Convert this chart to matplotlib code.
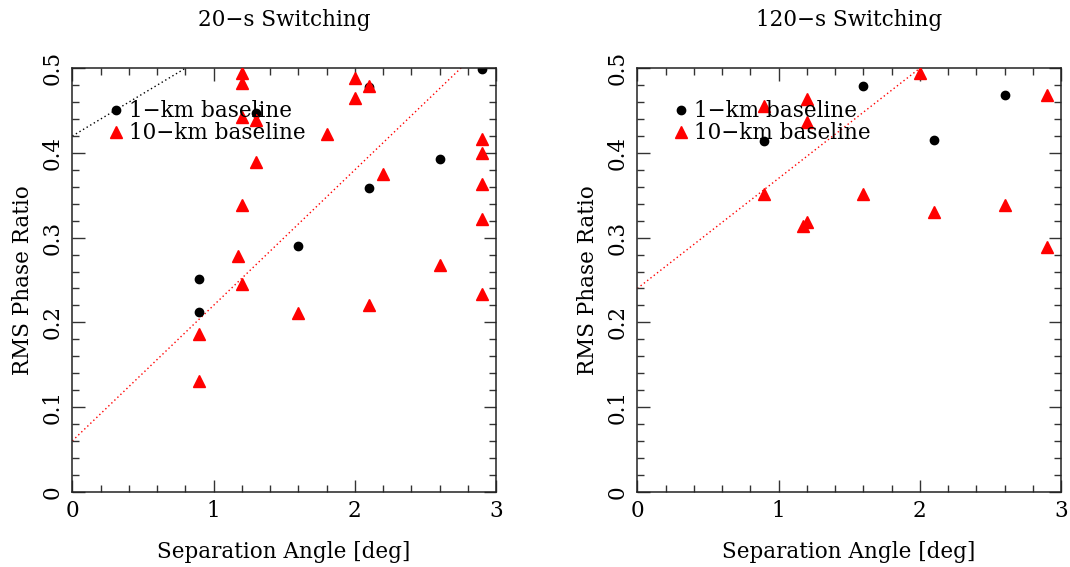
import matplotlib
matplotlib.use("Agg")
import matplotlib.pyplot as plt
import numpy as np
from matplotlib.ticker import MultipleLocator

plt.rcParams['font.family'] = ['DejaVu Serif']

# ---- data: 20-s switching ----
s20_1km_x = [2.9, 2.1, 1.3, 2.6, 2.1, 1.6, 0.9, 0.9]
s20_1km_y = [0.499, 0.478, 0.447, 0.393, 0.359, 0.290, 0.251, 0.212]
s20_10km_x = [1.2, 1.2, 2.0, 2.1, 2.0, 1.2, 1.3, 1.8, 2.9, 2.9, 1.3, 2.2, 2.9, 1.2,
              2.9, 1.17, 2.6, 1.2, 2.9, 2.1, 1.6, 0.9, 0.9]
s20_10km_y = [0.495, 0.483, 0.489, 0.479, 0.465, 0.443, 0.439, 0.422, 0.417, 0.400,
              0.389, 0.375, 0.363, 0.339, 0.322, 0.278, 0.268, 0.245, 0.233, 0.220,
              0.211, 0.186, 0.131]
s20_fit_1km = (0.42, 0.10)    # intercept, slope
s20_fit_10km = (0.06, 0.16)

# ---- data: 120-s switching ----
s120_1km_x = [1.6, 2.6, 0.9, 2.1]
s120_1km_y = [0.479, 0.469, 0.414, 0.415]
s120_10km_x = [2.0, 2.9, 1.2, 0.9, 1.2, 0.9, 1.6, 2.1, 2.6, 1.2, 1.17, 2.9]
s120_10km_y = [0.494, 0.468, 0.464, 0.456, 0.437, 0.351, 0.351, 0.330, 0.339,
               0.318, 0.314, 0.289]
s120_fit_10km = (0.24, 0.13)

titles = ["20\u2212s Switching", "120\u2212s Switching"]
xlabel = "Separation Angle [deg]"
ylabel = "RMS Phase Ratio"

W, H = 1070, 567
fig = plt.figure(figsize=(W / 100, H / 100), dpi=100)

def px_axes(l, r, t, b):
    return fig.add_axes([l / W, 1 - b / H, (r - l) / W, (b - t) / H])

ax1 = px_axes(72.3, 496, 68.3, 491.7)
ax2 = px_axes(637.3, 1061, 68.3, 491.7)

FS = 15.5

def style(ax, title):
    ax.set_xlim(0, 3)
    ax.set_ylim(0, 0.5)
    ax.xaxis.set_major_locator(MultipleLocator(1))
    ax.xaxis.set_minor_locator(MultipleLocator(0.2))
    ax.yaxis.set_major_locator(MultipleLocator(0.1))
    ax.yaxis.set_minor_locator(MultipleLocator(0.02))
    ax.tick_params(which='both', direction='in', top=True, right=True,
                   labelsize=FS, color='#333333')
    ax.tick_params(which='major', length=9, width=1, pad=6)
    ax.tick_params(which='minor', length=5, width=1)
    ax.set_yticks([0, 0.1, 0.2, 0.3, 0.4, 0.5])
    ax.set_yticklabels(["0", "0.1", "0.2", "0.3", "0.4", "0.5"], rotation=90,
                       va='center')
    ax.set_xticks([0, 1, 2, 3])
    ax.set_xticklabels(["0", "1", "2", "3"])
    for s in ax.spines.values():
        s.set_linewidth(1.1)
        s.set_color('#222222')
    ax.set_xlabel(xlabel, fontsize=FS, labelpad=14)
    ax.set_ylabel(ylabel, fontsize=FS, labelpad=6)
    bb = ax.get_position()
    fig.text((bb.x0 + bb.x1) / 2, 1 - 20 / H, title, fontsize=FS,
             ha='center', va='center')

xx = np.array([0, 3])

# left panel
ax1.plot(xx, s20_fit_1km[0] + s20_fit_1km[1] * xx, color='black', lw=1,
         ls=(0, (1, 2)), zorder=1)
ax1.plot(xx, s20_fit_10km[0] + s20_fit_10km[1] * xx, color='red', lw=1,
         ls=(0, (1, 2)), zorder=1)
ax1.plot(s20_1km_x, s20_1km_y, 'o', color='black', ms=6, label='1\u2212km baseline',
         zorder=2)
ax1.plot(s20_10km_x, s20_10km_y, '^', color='red', ms=9, mec='red',
         label='10\u2212km baseline', zorder=3)

# right panel
ax2.plot(xx, s120_fit_10km[0] + s120_fit_10km[1] * xx, color='red', lw=1,
         ls=(0, (1, 2)), zorder=1)
ax2.plot(s120_1km_x, s120_1km_y, 'o', color='black', ms=6, label='1\u2212km baseline',
         zorder=2)
ax2.plot(s120_10km_x, s120_10km_y, '^', color='red', ms=9, mec='red',
         label='10\u2212km baseline', zorder=3)

for ax, t in zip([ax1, ax2], titles):
    style(ax, t)
    ax.legend(loc='upper left', bbox_to_anchor=(0.087, 0.925), frameon=False,
              fontsize=FS, handlelength=0.6, handletextpad=0.3,
              labelspacing=0.0, borderaxespad=0, borderpad=0)

fig.savefig("out.png", dpi=100)
